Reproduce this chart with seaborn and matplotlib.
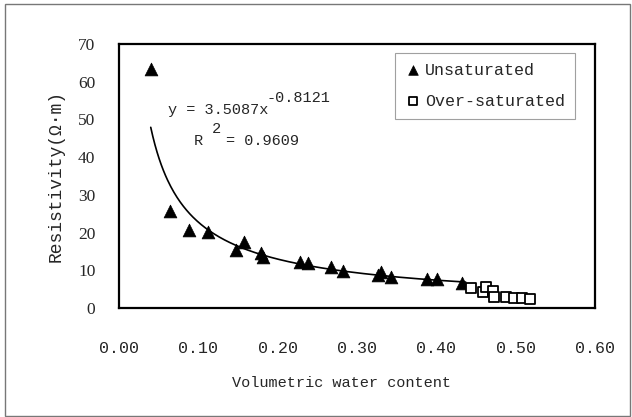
import numpy as np
import pandas as pd
import matplotlib
matplotlib.use("Agg")
import matplotlib.pyplot as plt
import seaborn as sns
from matplotlib.patches import Rectangle

# ---- data ----
unsat_x = [0.040, 0.064, 0.088, 0.112, 0.148, 0.157, 0.179, 0.181, 0.228, 0.238,
           0.267, 0.282, 0.326, 0.330, 0.343, 0.388, 0.401, 0.432]
unsat_y = [63.4, 25.7, 20.7, 20.2, 15.4, 17.5, 14.6, 13.4, 12.2, 11.9,
           10.9, 9.8, 8.7, 9.5, 8.2, 7.7, 7.6, 6.6]
over_x = [0.444, 0.459, 0.463, 0.472, 0.473, 0.488, 0.498, 0.508, 0.518]
over_y = [5.3, 4.3, 5.6, 4.5, 2.9, 2.9, 2.6, 2.6, 2.4]
fit_a = 3.5087
fit_b = -0.8121
fit_r2 = 0.9609
fit_range = (0.040, 0.437)
x_ticks = [0.0, 0.1, 0.2, 0.3, 0.4, 0.5, 0.6]
y_ticks = [0, 10, 20, 30, 40, 50, 60, 70]

sns.set_style("white")
mono = "Liberation Mono"
serif = "Liberation Serif"
plt.rcParams["font.family"] = [mono, "DejaVu Sans"]

fig = plt.figure(figsize=(6.32, 4.17), dpi=100)
fig.patches.append(Rectangle((5 / 632, 1 / 417), 625 / 632, 412 / 417,
                             transform=fig.transFigure, fill=False,
                             edgecolor="#777777", linewidth=1.0))
ax = fig.add_axes([119 / 632, 1 - 308 / 417, 476 / 632, 264 / 417])

df_u = pd.DataFrame({"x": unsat_x, "y": unsat_y})
df_o = pd.DataFrame({"x": over_x, "y": over_y})
fx = np.linspace(fit_range[0], fit_range[1], 300)
df_f = pd.DataFrame({"x": fx, "y": fit_a * fx ** fit_b})

sns.lineplot(data=df_f, x="x", y="y", ax=ax, color="black", linewidth=1.2,
             label="_nolegend_")
sns.scatterplot(data=df_u, x="x", y="y", ax=ax, marker="^", s=85,
                color="black", edgecolor="black", linewidth=0.5,
                label="Unsaturated", zorder=3)
sns.scatterplot(data=df_o, x="x", y="y", ax=ax, marker="s", s=55,
                facecolor="white", edgecolor="black", linewidth=1.3,
                label="Over-saturated", zorder=3)

ax.set_xlim(0, 0.6)
ax.set_ylim(0, 70)
ax.set_xticks(x_ticks)
ax.set_yticks(y_ticks)
ax.set_xticklabels([f"{v:.2f}" for v in x_ticks], fontsize=12, family=mono)
ax.set_yticklabels([str(v) for v in y_ticks], fontsize=12.5, family=serif)
ax.tick_params(axis="both", direction="in", length=7, width=0.8,
               color="#777777")
ax.tick_params(axis="y", pad=17)
ax.tick_params(axis="x", pad=24)
for s in ax.spines.values():
    s.set_color("black")
    s.set_linewidth(1.6)

ax.set_xlabel("Volumetric water content", fontsize=11, family=mono, labelpad=14)
ax.xaxis.label.set_x((341 - 119) / 476)
ax.set_ylabel("Resistivity(Ω·m)", fontsize=13, family=[mono, "DejaVu Sans"],
              labelpad=10)

leg = ax.legend(loc="upper right", bbox_to_anchor=(0.958, 0.967),
                borderaxespad=0, frameon=True, fancybox=False,
                prop={"family": mono, "size": 12}, handletextpad=0.2,
                borderpad=0.6, labelspacing=0.95, handlelength=1.0,
                markerscale=0.75)
leg.get_frame().set_edgecolor("#888888")
leg.get_frame().set_linewidth(0.8)

ax.text(0.0615, 52.5, f"y = {fit_a}x", fontsize=11, family=mono, va="center")
ax.text(0.186, 55.7, f"{fit_b}", fontsize=11, family=mono, va="center")
ax.text(0.094, 44.3, "R", fontsize=11, family=mono, va="center")
ax.text(0.117, 47.5, "2", fontsize=11, family=mono, va="center")
ax.text(0.1355, 44.3, f"= {fit_r2}", fontsize=11, family=mono, va="center")

fig.savefig("out.png", dpi=100)
